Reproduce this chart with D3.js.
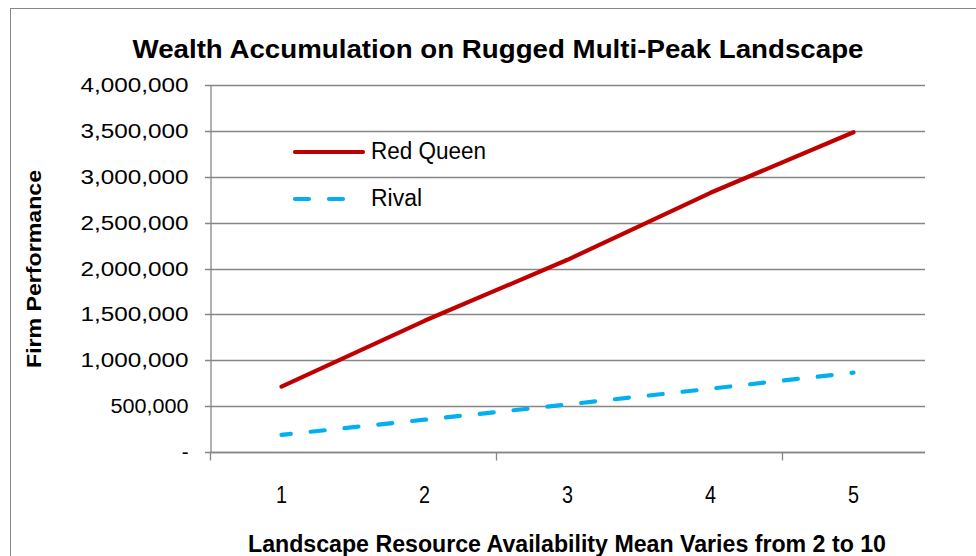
<!DOCTYPE html>
<html><head><meta charset="utf-8">
<script src="https://cdn.jsdelivr.net/npm/d3@7"></script>
<style>body{margin:0;background:#fff}svg{display:block}</style>
</head><body>
<script>
const categories = ["1","2","3","4","5"];
const redQueen = [712000, 1430000, 2095000, 2825000, 3485000];
const rival = [187000, 352000, 518000, 690000, 865000];
const yTicks = [0,500000,1000000,1500000,2000000,2500000,3000000,3500000,4000000];
const seriesNames = ["Red Queen","Rival"];

(function(){
const W=976,H=556;
const svg=d3.select("body").append("svg").attr("width",W).attr("height",H);
svg.append("rect").attr("x",10.5).attr("y",8.5).attr("width",W).attr("height",H).attr("fill","#fff").attr("stroke","#868686").attr("stroke-width",1);

const pL=210,pR=925,pT=85,pB=452;
const x=d3.scaleBand().domain(categories).range([pL,pR]);
const y=d3.scaleLinear().domain([0,4000000]).range([pB,pT]);
const font="Liberation Sans, Arial, sans-serif";

// gridlines
svg.append("g").selectAll("line").data(yTicks).join("line")
  .attr("x1",pL-5).attr("x2",pR).attr("y1",d=>Math.round(y(d))+0.5).attr("y2",d=>Math.round(y(d))+0.5)
  .attr("stroke","#868686").attr("stroke-width",1.3);

// y axis
const yAxis=d3.axisLeft(y).tickValues(yTicks).tickSize(0).tickPadding(22)
  .tickFormat(d=>d===0?"-":d3.format(",")(d));
const gy=svg.append("g").attr("transform",`translate(${pL+0.5},0)`).call(yAxis);
gy.select(".domain").attr("stroke","#868686").attr("stroke-width",1.3);
gy.selectAll("text").attr("font-family",font).attr("font-size",20.5).attr("fill","#000")
  .attr("textLength",d=>d===0?null:(d>=1000000?108:78)).attr("lengthAdjust","spacingAndGlyphs");

// x axis
const gx=svg.append("g").attr("transform",`translate(0,${Math.round(pB)+0.5})`);
gx.append("line").attr("x1",pL).attr("x2",pR).attr("stroke","#868686").attr("stroke-width",1.3);
const boundaries=[0,2,4];
gx.selectAll(".tk").data(boundaries).join("line").attr("class","tk")
  .attr("x1",d=>Math.round(pL+d*x.step())+0.5).attr("x2",d=>Math.round(pL+d*x.step())+0.5)
  .attr("y1",0).attr("y2",8).attr("stroke","#868686").attr("stroke-width",1.3);
gx.selectAll(".lbl").data(categories).join("text").attr("class","lbl")
  .attr("x",d=>x(d)+x.bandwidth()/2).attr("y",50).attr("text-anchor","middle")
  .attr("font-family",font).attr("font-size",23).attr("textLength",11).attr("lengthAdjust","spacingAndGlyphs").text(d=>d);

// lines
const line=d3.line().x((d,i)=>x(categories[i])+x.bandwidth()/2).y(d=>y(d));
svg.append("path").datum(redQueen).attr("d",line).attr("fill","none").attr("stroke","#C00000").attr("stroke-width",4.2).attr("stroke-linecap","round").attr("stroke-linejoin","round");
const rp=svg.append("path").datum(rival).attr("d",line).attr("fill","none").attr("stroke","#00B0F0").attr("stroke-width",4.2).attr("stroke-linecap","round").attr("stroke-dasharray","14,20");
const L=rp.node().getTotalLength();
rp.attr("stroke-dashoffset",((36-(L%34))%34+34)%34);

// legend
const lg=svg.append("g");
lg.append("line").attr("x1",295).attr("x2",363).attr("y1",152).attr("y2",152).attr("stroke","#C00000").attr("stroke-width",4.2).attr("stroke-linecap","round");
lg.append("line").attr("x1",295).attr("x2",346).attr("y1",199).attr("y2",199).attr("stroke","#00B0F0").attr("stroke-width",4.2).attr("stroke-linecap","round").attr("stroke-dasharray","14,20");
lg.append("text").attr("x",371).attr("y",159).attr("font-family",font).attr("font-size",23).text(seriesNames[0]).attr("textLength",115).attr("lengthAdjust","spacingAndGlyphs");
lg.append("text").attr("x",371).attr("y",206).attr("font-family",font).attr("font-size",23).text(seriesNames[1]).attr("textLength",51).attr("lengthAdjust","spacingAndGlyphs");

// titles
svg.append("text").attr("x",498).attr("y",58).attr("text-anchor","middle").attr("font-family",font).attr("font-weight","bold").attr("font-size",25)
  .attr("textLength",731).attr("lengthAdjust","spacingAndGlyphs").text("Wealth Accumulation on Rugged Multi-Peak Landscape");
svg.append("text").attr("x",567).attr("y",552).attr("text-anchor","middle").attr("font-family",font).attr("font-weight","bold").attr("font-size",23)
  .attr("textLength",638).attr("lengthAdjust","spacingAndGlyphs").text("Landscape Resource Availability Mean Varies from 2 to 10");
svg.append("text").attr("transform","translate(41,269) rotate(-90)").attr("text-anchor","middle").attr("font-family",font).attr("font-weight","bold").attr("font-size",20)
  .attr("textLength",198).attr("lengthAdjust","spacingAndGlyphs").text("Firm Performance");
})();
</script>
</body></html>
